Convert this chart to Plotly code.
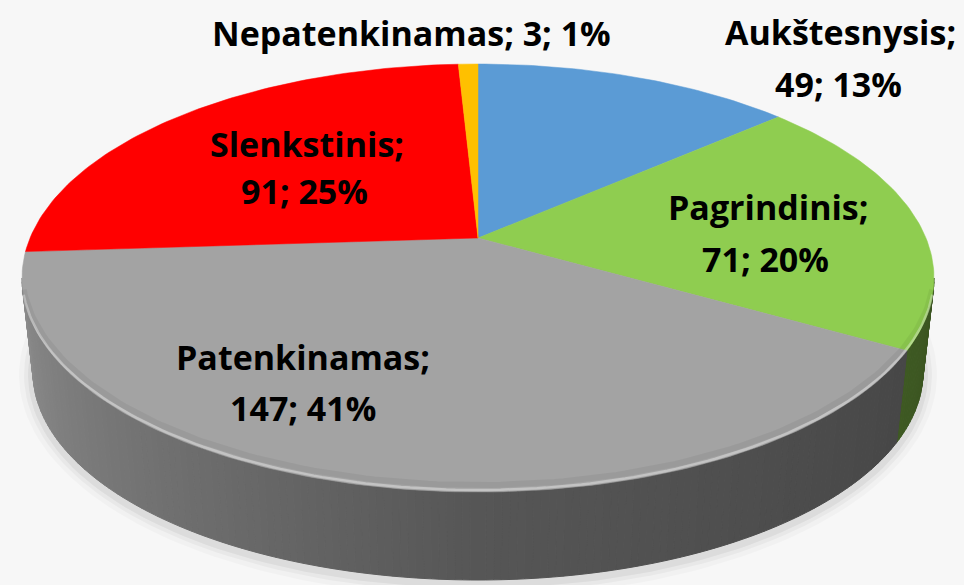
import numpy as np
import plotly.graph_objects as go

# data
labels = ["Aukštesnysis", "Pagrindinis", "Patenkinamas", "Slenkstinis", "Nepatenkinamas"]
counts = [49, 71, 147, 91, 3]
percents = [13, 20, 41, 25, 1]
top_colors = ["#5b9bd5", "#8fcd50", "#a3a3a3", "#ff0000", "#ffc000"]

# label placement (pixel coords, one entry per text line)
label_lines = [
    ("Aukštesnysis;", 840, 32), ("49; 13%", 838, 84),
    ("Pagrindinis;", 768, 207), ("71; 20%", 765, 259),
    ("Patenkinamas;", 303, 357), ("147; 41%", 303, 408),
    ("Slenkstinis;", 307, 144), ("91; 25%", 304, 191),
    ("Nepatenkinamas; 3; 1%", 411, 33),
]

# geometry of the tilted pie (pixels)
W, H = 964, 585
CX, CY, RX, RY = 478, 278, 456, 214       # top face ellipse
BCY, BRX, BRY = 372, 445, 208             # bottom rim ellipse
BETA = -0.187                             # perspective shift of the pie centre
GAMMA = 1 / np.sqrt(1 - BETA ** 2)


def project(theta):
    """true angle (rad, clockwise from 12 o'clock) -> normalised ellipse coords"""
    s, c = np.sin(theta), np.cos(theta)
    d = 1 - BETA * c
    return s / (GAMMA * d), (c - BETA) / d


def top_xy(u, v):
    return CX + RX * u, CY - RY * v


def bot_xy(u, v):
    return CX + BRX * u, BCY - BRY * v


def hex_rgb(h):
    h = h.lstrip("#")
    return tuple(int(h[i:i + 2], 16) for i in (0, 2, 4))


def shade(phi):
    # wall brightness: lighter on the left, darker towards the right
    p = np.degrees(phi)
    return float(np.interp(p, [90, 180, 270], [0.41, 0.53, 0.86]))


total = sum(counts)
bounds = np.concatenate([[0], np.cumsum(counts)]) / total * 2 * np.pi

fig = go.Figure()

# soft shadow under the pie
for k, alpha in [(14, 0.025), (9, 0.035), (5, 0.05)]:
    t = np.linspace(0, 2 * np.pi, 200)
    fig.add_trace(go.Scatter(
        x=CX + (BRX + k) * np.sin(t), y=BCY + 3 - (BRY + k) * np.cos(t),
        mode="lines", fill="toself", line=dict(width=0),
        fillcolor=f"rgba(0,0,0,{alpha})", hoverinfo="skip", showlegend=False))

# slice boundaries in ellipse-parameter space
phi_bounds = []
for b in bounds:
    u, v = project(b)
    phi_bounds.append(np.arctan2(u, v) % (2 * np.pi))
phi_bounds[-1] = 2 * np.pi


def slice_of(phi):
    for i in range(len(counts)):
        if phi_bounds[i] <= phi < phi_bounds[i + 1]:
            return i
    return len(counts) - 1


# side wall, front half only, drawn as thin strips for a shading gradient
edges = np.linspace(np.pi / 2, 3 * np.pi / 2, 181)
cuts = [p for p in phi_bounds if np.pi / 2 < p < 3 * np.pi / 2]
edges = np.unique(np.concatenate([edges, cuts]))
for p0, p1 in zip(edges[:-1], edges[1:]):
    idx = slice_of((p0 + p1) / 2)
    t = np.linspace(p0, p1, 4)
    u, v = np.sin(t), np.cos(t)
    tx, ty = top_xy(u, v)
    bx, by = bot_xy(u[::-1], v[::-1])
    f = shade((p0 + p1) / 2)
    r, g, b = (int(c * f) for c in hex_rgb(top_colors[idx]))
    col = f"rgb({r},{g},{b})"
    fig.add_trace(go.Scatter(
        x=np.concatenate([tx, bx, tx[:1]]), y=np.concatenate([ty, by, ty[:1]]),
        mode="lines", fill="toself", fillcolor=col, line=dict(width=1, color=col),
        hoverinfo="skip", showlegend=False))

# top faces
apex_x, apex_y = top_xy(0.0, -BETA)
for i, (lab, col) in enumerate(zip(labels, top_colors)):
    n = max(6, int((bounds[i + 1] - bounds[i]) / np.radians(1)))
    t = np.linspace(bounds[i], bounds[i + 1], n)
    u, v = project(t)
    x, y = top_xy(u, v)
    fig.add_trace(go.Scatter(
        x=np.concatenate([[apex_x], x, [apex_x]]), y=np.concatenate([[apex_y], y, [apex_y]]),
        mode="lines", fill="toself", fillcolor=col, line=dict(width=0.5, color=col),
        name=lab, hoverinfo="name", showlegend=False))

# light bevel along the front rim
t = np.linspace(np.radians(95), np.radians(265), 150)
rx_, ry_ = top_xy(np.sin(t), np.cos(t))
fig.add_trace(go.Scatter(x=rx_, y=ry_ - 2, mode="lines",
                         line=dict(width=2.5, color="rgba(255,255,255,0.35)"),
                         hoverinfo="skip", showlegend=False))
fig.add_trace(go.Scatter(x=rx_, y=ry_ - 7, mode="lines",
                         line=dict(width=6, color="rgba(0,0,0,0.05)"),
                         hoverinfo="skip", showlegend=False))

for text, x, y in label_lines:
    fig.add_annotation(x=x, y=y, text=text, showarrow=False,
                       xanchor="center", yanchor="middle",
                       font=dict(family="Open Sans", size=34, color="#000000", weight="bold"))

fig.update_xaxes(range=[0, W], visible=False, fixedrange=True)
fig.update_yaxes(range=[H, 0], visible=False, fixedrange=True)
fig.update_layout(
    width=W, height=H,
    margin=dict(l=0, r=0, t=0, b=0),
    paper_bgcolor="#f7f7f7", plot_bgcolor="#f7f7f7",
    showlegend=False,
)

fig.write_html("out.html", config={"displayModeBar": False},
               post_script="document.body.style.margin='0';")
